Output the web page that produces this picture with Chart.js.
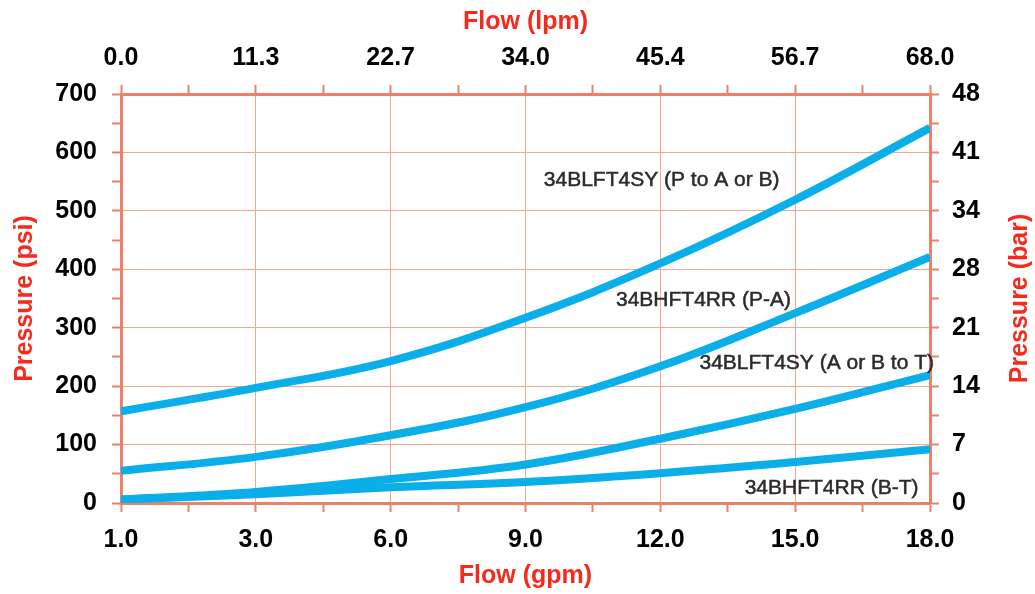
<!DOCTYPE html>
<html>
  <head>
    <title>Pressure drop vs flow</title>
    <script src="https://cdn.jsdelivr.net/npm/chart.js@4/dist/chart.umd.min.js"></script>
    <style>
    body{
    	margin: 0;
    	background-color: white;
    }
  	</style>
  </head>
  <body>

    <canvas id="flow-chart" width="1035" height="594"></canvas>

  <script type="text/javascript">

  // grid positions (evenly spaced columns) and their labels
  var flowPos = [0, 1, 2, 3, 4, 5, 6];
  var gpmLabels = ["1.0", "3.0", "6.0", "9.0", "12.0", "15.0", "18.0"];
  var lpmLabels = ["0.0", "11.3", "22.7", "34.0", "45.4", "56.7", "68.0"];
  var psiTicks = [0, 100, 200, 300, 400, 500, 600, 700];
  var barLabels = ["0", "7", "14", "21", "28", "34", "41", "48"];

  // pressure (psi) read at each grid position
  var blftPtoAB = [157, 197, 243, 317, 410, 519, 642];
  var bhftPtoA  = [55, 79, 116, 164, 234, 325, 421];
  var blftABtoT = [6, 19, 41, 66, 110, 161, 219];
  var bhftBtoT  = [6, 15, 27, 36, 51, 70, 92];

  var seriesNames = ["34BLFT4SY (P to A or B)", "34BHFT4RR (P-A)", "34BLFT4SY (A or B to T)", "34BHFT4RR (B-T)"];
  // where each curve label sits, in axis units
  var labelPos = [[4.01, 553], [4.32, 347], [5.16, 240], [5.27, 26]];

  var lineColor = '#0aaee9';
  var gridColor = '#f5a593';
  var axisColor = '#ef8068';
  var titleColor = '#f42a1c';
  var fontFamily = '"Liberation Sans", Arial, sans-serif';

  function toPoints(vals){
  	return vals.map(function(v, i){ return {x: flowPos[i], y: v}; });
  }

  function halfSteps(n, step){
  	var out = [];
  	for (var i = 0; i <= n * 2; i++) out.push({value: i * step / 2});
  	return out;
  }

  function isMajor(ctx, step){
  	return ctx.tick && Math.abs(ctx.tick.value / step - Math.round(ctx.tick.value / step)) < 1e-6;
  }

  var curveLabels = {
  	id: 'curveLabels',
  	afterDatasetsDraw: function(chart){
  		var ctx = chart.ctx, xs = chart.scales.x, ys = chart.scales.y;
  		ctx.save();
  		ctx.font = '21px ' + fontFamily;
  		ctx.fillStyle = '#2b2b2b';
  		ctx.strokeStyle = '#2b2b2b';
  		ctx.lineWidth = 0.5;
  		ctx.textAlign = 'center';
  		ctx.textBaseline = 'middle';
  		seriesNames.forEach(function(name, i){
  			var px = xs.getPixelForValue(labelPos[i][0]), py = ys.getPixelForValue(labelPos[i][1]);
  			ctx.fillText(name, px, py);
  			ctx.strokeText(name, px, py);
  		});
  		// right axis title reads bottom-to-top like the left one
  		var area = chart.chartArea;
  		ctx.translate(chart.width - 15, (area.top + area.bottom) / 2);
  		ctx.rotate(-Math.PI / 2);
  		ctx.font = 'bold 25px ' + fontFamily;
  		ctx.fillStyle = titleColor;
  		ctx.fillText('Pressure (bar)', 0, 0);
  		ctx.restore();
  	}
  };

  var tickFont = {family: fontFamily, size: 25, weight: 'bold'};
  var titleFont = {family: fontFamily, size: 25, weight: 'bold'};

  function xAxis(pos, labels, size, pad, titleText, titlePad){
  	return {
  		type: 'linear', position: pos, min: 0, max: 6,
  		afterBuildTicks: function(s){ s.ticks = halfSteps(6, 1); },
  		afterFit: function(s){ s.height = size; },
  		ticks: {
  			autoSkip: false, maxRotation: 0, color: '#000', font: tickFont, padding: pad,
  			callback: function(v){ return Number.isInteger(v) ? labels[v] : ''; }
  		},
  		grid: {
  			drawOnChartArea: pos === 'bottom',
  			color: function(c){ return isMajor(c, 1) ? gridColor : 'rgba(0,0,0,0)'; },
  			tickColor: axisColor, tickLength: 9, tickWidth: 2, lineWidth: 1
  		},
  		border: {color: axisColor, width: 3},
  		title: {display: true, text: titleText, color: titleColor, font: titleFont, padding: titlePad}
  	};
  }

  function yAxis(pos, size, pad, titleText, titlePad){
  	return {
  		type: 'linear', position: pos, min: 0, max: 700,
  		afterBuildTicks: function(s){ s.ticks = halfSteps(7, 100); },
  		afterFit: function(s){ s.width = size; },
  		ticks: {
  			autoSkip: false, color: '#000', font: tickFont, padding: pad,
  			callback: function(v){
  				var i = psiTicks.indexOf(v);
  				if (i < 0) return '';
  				return pos === 'left' ? String(v) : barLabels[i];
  			}
  		},
  		grid: {
  			drawOnChartArea: pos === 'left',
  			color: function(c){ return isMajor(c, 100) ? gridColor : 'rgba(0,0,0,0)'; },
  			tickColor: axisColor, tickLength: 9, tickWidth: 2, lineWidth: 1
  		},
  		border: {color: axisColor, width: 3},
  		title: {display: titleText !== '', text: titleText, color: titleColor, font: titleFont, padding: titlePad}
  	};
  }

  var series = [blftPtoAB, bhftPtoA, blftABtoT, bhftBtoT];

  new Chart(document.getElementById('flow-chart').getContext('2d'), {
  	type: 'line',
  	data: {
  		datasets: series.map(function(vals, i){
  			return {
  				label: seriesNames[i],
  				data: toPoints(vals),
  				borderColor: lineColor,
  				borderWidth: 8,
  				pointRadius: 0,
  				tension: 0.4,
  				fill: false,
  				xAxisID: 'x', yAxisID: 'y'
  			};
  		})
  	},
  	options: {
  		responsive: false,
  		animation: false,
  		devicePixelRatio: 1,
  		layout: {padding: 0},
  		plugins: {legend: {display: false}, tooltip: {enabled: false}},
  		scales: {
  			x: xAxis('bottom', gpmLabels, 91, 13, 'Flow (gpm)', {top: 0, bottom: 3}),
  			x2: xAxis('top', lpmLabels, 94, 12, 'Flow (lpm)', {top: 7, bottom: 0}),
  			y: yAxis('left', 121, 15, 'Pressure (psi)', {top: 10, bottom: 0}),
  			y2: yAxis('right', 105, 13, '', 0)
  		}
  	},
  	plugins: [curveLabels]
  });

  </script>
  </body>
</html>
